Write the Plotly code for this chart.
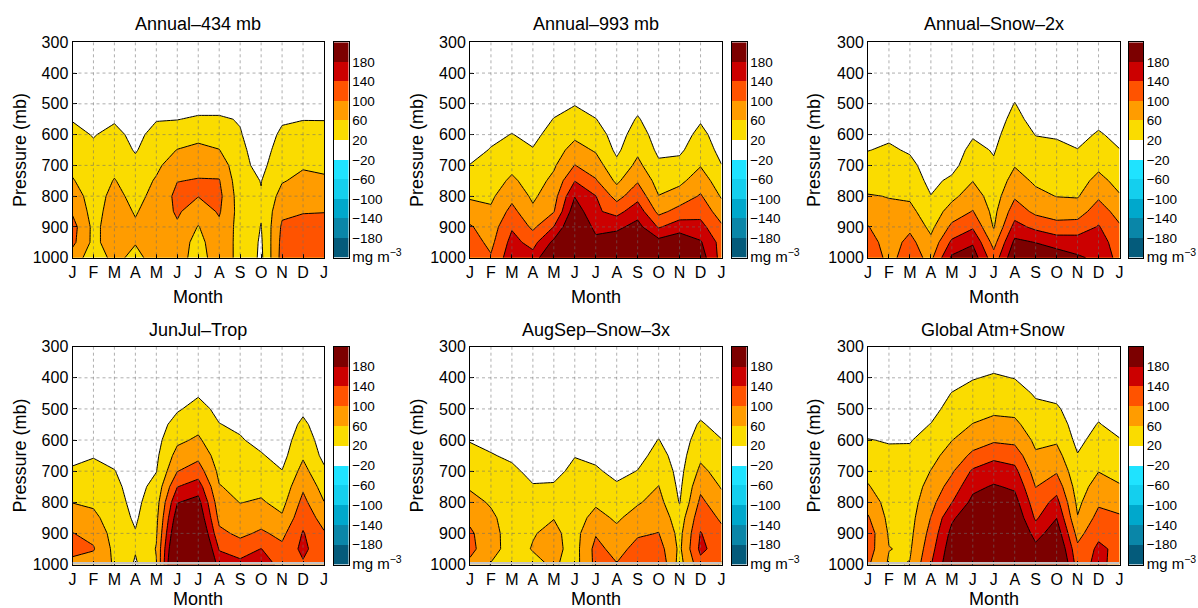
import plotly.graph_objects as go

# ---------------- data ----------------
months = ["J", "F", "M", "A", "M", "J", "J", "A", "S", "O", "N", "D", "J"]
month_pos = list(range(13))
pressure = [1000, 950, 900, 850, 800, 750, 700, 650, 600, 550, 500, 450, 400, 350, 300]
pressure_ticks = [300, 400, 500, 600, 700, 800, 900, 1000]

# colour bands (mg m^-3): edges at +-20, +-60, +-100, +-140, +-180
band_centers = [-200, -160, -120, -80, -40, 0, 40, 80, 120, 160, 200]
band_colors = ["#045b7b", "#0a86a8", "#00a8cc", "#14cfee", "#1fe3ff", "#ffffff",
               "#fadc00", "#ff9c00", "#ff5300", "#cc0000", "#7c0000"]
# all fields are >= 0, so only the positive contour levels are drawn
level_start, level_end, level_size = 20, 180, 40
cbar_tickvals = [-220, -180, -140, -100, -60, -20, 20, 60, 100, 140, 180]
cbar_ticktext = ["<span style='font-size:15px'>mg m<sup>−3</sup></span>", "−180", "−140",
                 "−100", "−60", "−20", "20", "60", "100", "140", "180"]

titles = ["Annual–434 mb", "Annual–993 mb", "Annual–Snow–2x",
          "JunJul–Trop", "AugSep–Snow–3x", "Global Atm+Snow"]

# each inner list = one month column, values at pressure levels 1000 -> 300 mb
annual_434 = [
    [80, 110, 115, 95, 80, 63, 50, 40, 30, 18, 8, 0, 0, 0, 0],
    [40, 50, 50, 45, 42, 38, 33, 27, 18, 10, 5, 0, 0, 0, 0],
    [70, 80, 80, 78, 72, 62, 50, 40, 30, 16, 8, 0, 0, 0, 0],
    [50, 62, 65, 57, 48, 40, 30, 17, 10, 5, 0, 0, 0, 0, 0],
    [75, 78, 80, 78, 72, 64, 52, 42, 32, 18, 8, 0, 0, 0, 0],
    [68, 75, 95, 105, 110, 99, 82, 61, 40, 19, 8, 0, 0, 0, 0],
    [52, 50, 58, 80, 101, 102, 90, 68, 50, 25, 5, 0, 0, 0, 0],
    [70, 80, 92, 104, 110, 102, 85, 61, 42, 24, 8, 0, 0, 0, 0],
    [55, 50, 45, 44, 40, 35, 30, 27, 22, 18, 8, 0, 0, 0, 0],
    [12, 15, 19, 23, 22, 19, 10, 5, 2, 0, 0, 0, 0, 0, 0],
    [115, 112, 106, 92, 75, 57, 45, 35, 26, 16, 8, 0, 0, 0, 0],
    [120, 118, 112, 98, 82, 70, 56, 44, 32, 19, 8, 0, 0, 0, 0],
    [104, 115, 112, 99, 80, 66, 52, 42, 30, 19, 8, 0, 0, 0, 0],
]
annual_993 = [
    [125, 118, 104, 78, 55, 37, 21, 8, 2, 0, 0, 0, 0, 0, 0],
    [104, 90, 80, 66, 53, 42, 32, 22, 12, 5, 0, 0, 0, 0, 0],
    [165, 153, 136, 112, 89, 67, 50, 35, 21, 8, 2, 0, 0, 0, 0],
    [155, 126, 92, 68, 53, 43, 32, 22, 11, 4, 0, 0, 0, 0, 0],
    [235, 190, 141, 98, 84, 69, 55, 43, 33, 21, 10, 3, 0, 0, 0],
    [280, 255, 230, 205, 178, 139, 101, 74, 52, 35, 18, 5, 0, 0, 0],
    [215, 192, 168, 146, 141, 104, 78, 56, 38, 21, 5, 0, 0, 0, 0],
    [234, 204, 171, 127, 85, 52, 30, 12, 4, 0, 0, 0, 0, 0, 0],
    [244, 219, 194, 163, 127, 96, 70, 52, 37, 23, 10, 2, 0, 0, 0],
    [234, 195, 136, 89, 61, 44, 27, 12, 4, 0, 0, 0, 0, 0, 0],
    [248, 208, 162, 114, 77, 51, 32, 13, 4, 0, 0, 0, 0, 0, 0],
    [201, 184, 153, 126, 104, 80, 58, 44, 30, 16, 6, 0, 0, 0, 0],
    [125, 125, 106, 80, 56, 38, 21, 8, 2, 0, 0, 0, 0, 0, 0],
]
annual_snow_2x = [
    [125, 120, 102, 82, 62, 47, 33, 19, 8, 2, 0, 0, 0, 0, 0],
    [90, 80, 72, 66, 59, 48, 37, 25, 14, 5, 0, 0, 0, 0, 0],
    [116, 112, 92, 71, 54, 41, 29, 16, 6, 0, 0, 0, 0, 0, 0],
    [90, 70, 50, 36, 21, 10, 4, 0, 0, 0, 0, 0, 0, 0, 0],
    [187, 148, 109, 77, 50, 28, 7, 0, 0, 0, 0, 0, 0, 0, 0],
    [202, 175, 135, 102, 80, 59, 45, 31, 16, 5, 0, 0, 0, 0, 0],
    [115, 86, 57, 49, 41, 33, 25, 17, 10, 4, 0, 0, 0, 0, 0],
    [214, 189, 154, 121, 95, 75, 58, 49, 40, 30, 21, 11, 4, 0, 0],
    [210, 179, 130, 91, 70, 54, 42, 31, 19, 8, 2, 0, 0, 0, 0],
    [202, 164, 113, 83, 59, 49, 38, 27, 17, 7, 0, 0, 0, 0, 0],
    [185, 160, 117, 82, 57, 45, 33, 21, 9, 2, 0, 0, 0, 0, 0],
    [172, 158, 143, 120, 94, 71, 52, 38, 24, 10, 3, 0, 0, 0, 0],
    [125, 120, 105, 84, 63, 48, 34, 21, 10, 3, 0, 0, 0, 0, 0],
]
junjul_trop = [
    [90, 110, 101, 80, 59, 42, 25, 10, 3, 0, 0, 0, 0, 0, 0],
    [80, 103, 90, 70, 53, 42, 30, 18, 8, 0, 0, 0, 0, 0, 0],
    [57, 50, 44, 38, 33, 28, 21, 12, 5, 0, 0, 0, 0, 0, 0],
    [15, 23, 22, 15, 10, 6, 3, 0, 0, 0, 0, 0, 0, 0, 0],
    [58, 62, 56, 50, 43, 32, 19, 13, 8, 3, 0, 0, 0, 0, 0],
    [280, 255, 230, 205, 178, 139, 99, 74, 52, 34, 16, 5, 0, 0, 0],
    [290, 265, 240, 215, 194, 160, 119, 90, 66, 48, 32, 16, 6, 0, 0],
    [163, 137, 109, 90, 76, 62, 51, 41, 31, 21, 11, 4, 0, 0, 0],
    [153, 118, 92, 76, 59, 50, 41, 32, 23, 14, 5, 0, 0, 0, 0],
    [170, 141, 106, 84, 64, 50, 36, 23, 10, 3, 0, 0, 0, 0, 0],
    [122, 109, 90, 65, 48, 34, 21, 8, 2, 0, 0, 0, 0, 0, 0],
    [135, 150, 143, 127, 111, 94, 73, 55, 41, 27, 13, 4, 0, 0, 0],
    [118, 112, 104, 83, 61, 44, 27, 10, 3, 0, 0, 0, 0, 0, 0],
]
augsep_snow_3x = [
    [90, 112, 107, 90, 72, 56, 43, 31, 18, 8, 0, 0, 0, 0, 0],
    [58, 72, 72, 67, 56, 44, 33, 22, 12, 4, 0, 0, 0, 0, 0],
    [45, 46, 45, 42, 37, 32, 26, 15, 8, 0, 0, 0, 0, 0, 0],
    [50, 62, 58, 48, 38, 22, 12, 6, 0, 0, 0, 0, 0, 0, 0],
    [65, 72, 68, 59, 45, 23, 12, 6, 0, 0, 0, 0, 0, 0, 0],
    [45, 45, 46, 42, 37, 32, 27, 19, 10, 3, 0, 0, 0, 0, 0],
    [110, 112, 97, 73, 54, 39, 25, 12, 5, 0, 0, 0, 0, 0, 0],
    [102, 86, 70, 54, 40, 25, 10, 5, 0, 0, 0, 0, 0, 0, 0],
    [131, 113, 95, 76, 56, 39, 21, 8, 3, 0, 0, 0, 0, 0, 0],
    [135, 118, 101, 87, 74, 61, 47, 33, 21, 8, 2, 0, 0, 0, 0],
    [45, 52, 48, 38, 18, 12, 8, 4, 0, 0, 0, 0, 0, 0, 0],
    [125, 150, 142, 126, 109, 91, 69, 52, 38, 24, 10, 3, 0, 0, 0],
    [96, 118, 111, 93, 74, 57, 45, 32, 21, 8, 0, 0, 0, 0, 0],
]
global_atm_snow = [
    [105, 118, 122, 104, 84, 63, 49, 35, 21, 8, 0, 0, 0, 0, 0],
    [55, 61, 56, 50, 44, 38, 32, 26, 18, 8, 0, 0, 0, 0, 0],
    [62, 55, 50, 46, 42, 38, 33, 27, 18, 8, 0, 0, 0, 0, 0],
    [138, 125, 113, 101, 87, 74, 61, 47, 33, 21, 8, 2, 0, 0, 0],
    [215, 205, 192, 173, 139, 116, 95, 77, 59, 46, 33, 21, 8, 2, 0],
    [271, 251, 231, 211, 191, 170, 146, 108, 83, 61, 47, 32, 18, 4, 0],
    [283, 263, 243, 223, 203, 184, 159, 131, 94, 71, 52, 38, 24, 10, 2],
    [275, 255, 235, 215, 195, 174, 151, 122, 90, 68, 50, 35, 19, 6, 0],
    [218, 193, 163, 134, 117, 99, 82, 65, 52, 40, 28, 16, 6, 0, 0],
    [255, 230, 205, 179, 153, 124, 96, 74, 55, 40, 25, 10, 3, 0, 0],
    [121, 109, 86, 62, 51, 41, 32, 22, 10, 3, 0, 0, 0, 0, 0],
    [152, 148, 131, 113, 94, 77, 59, 47, 35, 22, 10, 3, 0, 0, 0],
    [122, 130, 120, 105, 85, 63, 49, 35, 22, 8, 0, 0, 0, 0, 0],
]
panels = [annual_434, annual_993, annual_snow_2x, junjul_trop, augsep_snow_3x, global_atm_snow]

# ---------------- layout geometry (pixels) ----------------
W, H = 1198, 608
plot_left = [72.5, 470.0, 868.0]
plot_w = 251.5
cbar_left = [334.0, 732.0, 1128.5]
cbar_w = 14.5
row_top = [42.3, 346.7]
row_bot = [257.7, 564.5]
title_y = [24, 330]
month_y = [297, 599]
ylabel_x = [20, 417, 814]

FONT = "Liberation Sans, Arial, Helvetica, sans-serif"
# full diverging scale for the colour bar (bands -200..200)
cbar_colorscale = [[i / 10, c] for i, c in enumerate(band_colors)]
# contour fills: bands 0 (white, below 20), 40, 80, 120, 160, 200
pos_colors = band_colors[5:]
contour_colorscale = [[i / (len(pos_colors) - 1), c] for i, c in enumerate(pos_colors)]


def fx(px):
    return px / W


def fy(py):
    return 1 - py / H


fig = go.Figure()
layout = dict(
    template="none",
    width=W, height=H, autosize=False, margin=dict(l=0, r=0, t=0, b=0, pad=0),
    paper_bgcolor="white", plot_bgcolor="white", hovermode=False,
    font=dict(family=FONT, color="black"), showlegend=False,
)
shapes, annotations = [], []

for k, data in enumerate(panels):
    r, c = divmod(k, 3)
    ax = "" if k == 0 else str(k + 1)
    cax = str(k + 7)
    z = [list(row) for row in zip(*data)]  # rows = pressure levels, cols = months
    fig.add_trace(go.Contour(
        x=month_pos, y=pressure, z=z, xaxis="x" + ax, yaxis="y" + ax,
        autocontour=False,
        contours=dict(start=level_start, end=level_end, size=level_size,
                      coloring="fill", showlines=True),
        line=dict(color="black", width=1, smoothing=0),
        colorscale=contour_colorscale, showscale=False, hoverinfo="skip",
    ))
    fig.add_trace(go.Heatmap(
        x=[0], y=band_centers, z=[[v] for v in band_centers],
        xaxis="x" + cax, yaxis="y" + cax, colorscale=cbar_colorscale,
        zmin=-200, zmax=200, showscale=False, hoverinfo="skip",
    ))
    ydom = [fy(row_bot[r]), fy(row_top[r])]
    layout["xaxis" + ax] = dict(
        domain=[fx(plot_left[c]), fx(plot_left[c] + plot_w)], anchor="y" + ax,
        range=[0, 12], tickvals=month_pos, ticktext=months, ticks="inside",
        ticklen=4, tickcolor="black", showline=True, mirror=True, linecolor="black",
        linewidth=1, showgrid=False, zeroline=False, layer="above traces",
        tickfont=dict(size=16), automargin=False, fixedrange=True,
    )
    layout["yaxis" + ax] = dict(
        domain=ydom, anchor="x" + ax, range=[1000, 300], tickvals=pressure_ticks,
        ticks="inside", ticklen=4, tickcolor="black", showline=True, mirror=True,
        linecolor="black", linewidth=1, showgrid=False, zeroline=False,
        layer="above traces", tickfont=dict(size=16), automargin=False,
        fixedrange=True,
    )
    layout["xaxis" + cax] = dict(
        domain=[fx(cbar_left[c]), fx(cbar_left[c] + cbar_w)], anchor="y" + cax,
        range=[-0.5, 0.5], showticklabels=False, ticks="", showline=True,
        mirror=True, linecolor="black", linewidth=1, showgrid=False,
        zeroline=False, layer="above traces", automargin=False, fixedrange=True,
    )
    layout["yaxis" + cax] = dict(
        domain=ydom, anchor="x" + cax, range=[-220, 220], side="right",
        tickvals=cbar_tickvals, ticktext=cbar_ticktext, ticks="",
        showline=True, mirror=True, linecolor="black", linewidth=1,
        showgrid=False, zeroline=False, layer="above traces",
        tickfont=dict(size=13.5), automargin=False, fixedrange=True,
    )
    # dotted grid drawn above the filled contours
    for m in month_pos[1:-1]:
        shapes.append(dict(type="line", xref="x" + ax, yref="y" + ax, x0=m, x1=m,
                           y0=300, y1=1000, layer="above",
                           line=dict(color="rgba(110,110,110,0.55)", width=1, dash="dot")))
    for p in pressure_ticks[1:-1]:
        shapes.append(dict(type="line", xref="x" + ax, yref="y" + ax, x0=0, x1=12,
                           y0=p, y1=p, layer="above",
                           line=dict(color="rgba(110,110,110,0.55)", width=1, dash="dot")))
    if r == 1:
        # thin grey strip along the 1000 mb edge, as in the reference
        shapes.append(dict(type="rect", xref="x" + ax, yref="y" + ax, x0=0, x1=12,
                           y0=992, y1=1000, layer="above", line=dict(width=0),
                           fillcolor="#c4c4c4"))
    xc = fx(plot_left[c] + plot_w / 2)
    annotations.append(dict(text=titles[k], x=xc, y=fy(title_y[r]), xref="paper",
                            yref="paper", showarrow=False, xanchor="center",
                            yanchor="middle", font=dict(size=18)))
    annotations.append(dict(text="Month", x=xc, y=fy(month_y[r]), xref="paper",
                            yref="paper", showarrow=False, xanchor="center",
                            yanchor="middle", font=dict(size=18)))
    annotations.append(dict(text="Pressure (mb)", x=fx(ylabel_x[c]),
                            y=fy((row_top[r] + row_bot[r]) / 2), xref="paper",
                            yref="paper", showarrow=False, xanchor="center",
                            yanchor="middle", textangle=-90, font=dict(size=18)))

layout["shapes"] = shapes
layout["annotations"] = annotations
fig.update_layout(**layout)
fig.write_html(
    "out.html",
    config={"staticPlot": True, "displayModeBar": False},
    post_script="document.body.style.margin='0';document.body.style.overflow='hidden';",
)
